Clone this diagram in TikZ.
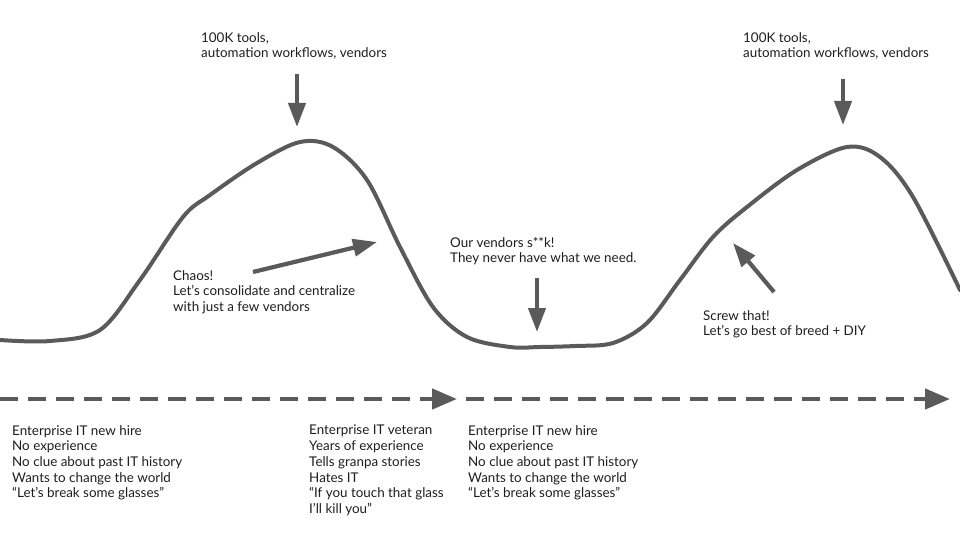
\documentclass[tikz,border=0pt]{standalone}
\usepackage{fontspec}
\setmainfont{Lato}
\usetikzlibrary{arrows.meta}
\definecolor{linegray}{HTML}{5A5A5A}
\definecolor{inkgray}{HTML}{1E1E1E}

\begin{document}
\begin{tikzpicture}[x=1pt, y=-1pt,
    note/.style={anchor=north west, inner sep=0pt, align=left, text=inkgray, font=\fontsize{13.4}{15.7}\selectfont},
    pointer/.style={draw=linegray, line width=4.2pt, -{Triangle[length=24pt, width=17pt]}},
    timeline/.style={draw=linegray, line width=4.5pt, dash pattern=on 18pt off 10pt, -{Triangle[length=25pt, width=20pt]}}]
    \useasboundingbox (0,0) rectangle (960,540);

    % hype curve
    \draw[linegray, line width=4pt, line cap=round] plot[smooth, tension=0.55] coordinates {
        (0,340) (50,341) (100,330) (140,280) (183,217) (210,195) (257,163) (300,142)
        (333,147) (367,180) (400,247) (433,307) (467,337) (510,347) (540,347)
        (575,346) (613,343) (647,323) (680,280) (713,237) (747,207) (797,170)
        (847,147) (880,157) (913,197) (960,290)};

    % timeline
    \coordinate (t0) at (0,399);
    \coordinate (t1) at (457,399);
    \coordinate (t2) at (466,399);
    \coordinate (t3) at (950,399);
    \draw[timeline] (t0) -- (t1);
    \draw[timeline] (t2) -- (t3);

    % annotations
    \node[note] (toolsA) at (201,32) {100K tools,\\automation workflows, vendors};
    \node[note] (toolsB) at (743,32) {100K tools,\\automation workflows, vendors};
    \node[note] (chaos) at (173,270) {Chaos!\\Let’s consolidate and centralize\\with just a few vendors};
    \node[note] (vendors) at (450,237) {Our vendors s**k!\\They never have what we need.};
    \node[note] (screw) at (703,310) {Screw that!\\Let’s go best of breed + DIY};

    \coordinate (peakA) at (297,127);
    \coordinate (peakB) at (843,125);
    \coordinate (downA) at (377,242);
    \coordinate (chaosA) at (253,272);
    \coordinate (dip) at (537,332);
    \coordinate (upB) at (733,243);
    \coordinate (screwA) at (774,292);

    \draw[pointer] (297,74) -- (peakA);
    \draw[pointer] (843,79) -- (peakB);
    \draw[pointer] (chaosA) -- (downA);
    \draw[pointer] (537,278) -- (dip);
    \draw[pointer] (screwA) -- (upB);

    % personas
    \node[note] (hireA) at (12,425) {Enterprise IT new hire\\No experience\\No clue about past IT history\\Wants to change the world\\“Let’s break some glasses”};
    \node[note] (veteran) at (309,425) {Enterprise IT veteran\\Years of experience\\Tells granpa stories\\Hates IT\\“If you touch that glass\\I’ll kill you”};
    \node[note] (hireB) at (468,425) {Enterprise IT new hire\\No experience\\No clue about past IT history\\Wants to change the world\\“Let’s break some glasses”};
\end{tikzpicture}
\end{document}
